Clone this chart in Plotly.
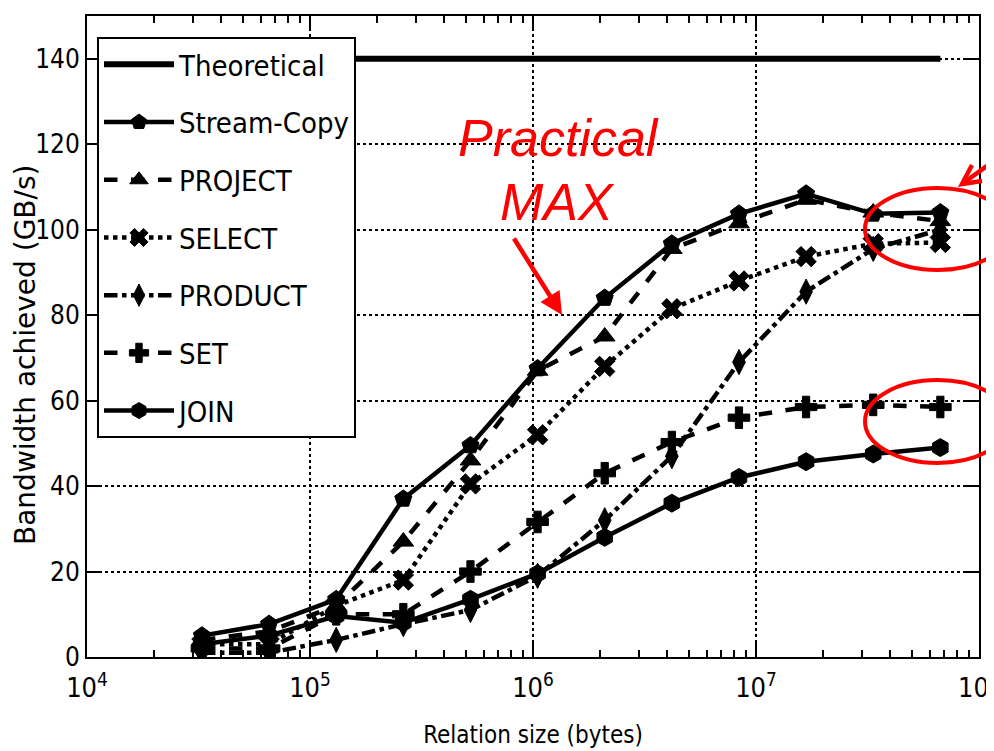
import plotly.graph_objects as go

sizes = [2**k for k in range(15, 27)]
theoretical = [140] * 12
stream_copy = [5, 7.7, 13.5, 37, 49.5, 67.5, 84, 96.7, 103.7, 108.4, 103.7, 104]
project = [4, 6, 12, 27, 46, 67, 75, 95.5, 101.5, 107, 104, 102]
select = [3, 3, 12, 18, 40.5, 52, 68, 81.5, 88, 93.7, 96.7, 97]
product = [1, 1, 4, 7.7, 11, 19, 32, 47, 69, 85.5, 95.5, 100]
set_op = [2, 2, 10, 10, 20, 31.6, 43, 50.3, 56, 58.5, 59, 58.5]
join = [3, 5, 9.6, 8, 13.5, 19.5, 28, 36, 42, 45.7, 47.5, 49]

x_tickvals = [1e4, 1e5, 1e6, 1e7, 1e8]
x_ticktext = ["10<sup>4</sup>", "10<sup>5</sup>", "10<sup>6</sup>", "10<sup>7</sup>", "10<sup>8</sup>"]
y_tickvals = [0, 20, 40, 60, 80, 100, 120, 140]
x_title = "Relation size (bytes)"
y_title = "Bandwidth achieved (GB/s)"

series = [
    ("Theoretical", theoretical, "solid", None),
    ("Stream-Copy", stream_copy, "solid", "pentagon"),
    ("PROJECT", project, "dash", "triangle-up"),
    ("SELECT", select, "dot", "x"),
    ("PRODUCT", product, "dashdot", "diamond-tall"),
    ("SET", set_op, "dash", "cross"),
    ("JOIN", join, "solid", "hexagon"),
]

FONT = "DejaVu Sans Condensed, DejaVu Sans"

fig = go.Figure()
for i, (name, vals, dash, sym) in enumerate(series):
    mode = "lines" if sym is None else "lines+markers"
    fig.add_trace(go.Scatter(
        x=sizes, y=vals, name=name, mode=mode, legendgroup=str(i),
        line=dict(color="black", width=6 if sym is None else 4.5, dash=dash),
        marker=dict(symbol=sym, size=18, color="black",
                    line=dict(color="black", width=1)) if sym else None,
    ))

# page is drawn with an 8px body offset
OFF = 8
W, H = 994, 751
L, R, T, B = 79, 23, 8, 102
pw, ph = W - L - R, H - T - B
PLOT_LEFT = OFF + L
PLOT_BOTTOM = OFF + H - B

def px(sx):
    return (sx - PLOT_LEFT) / pw

def py(sy):
    return (PLOT_BOTTOM - sy) / ph

minor_vals = []
for e in range(4, 8):
    for m in range(2, 10):
        minor_vals.append(m * 10**e)

fig.update_layout(
    width=W, height=H,
    margin=dict(l=L, r=R, t=T, b=B),
    plot_bgcolor="white", paper_bgcolor="white",
    font=dict(family=FONT, color="black"),
    showlegend=True,
    legend=dict(x=px(97), y=py(37), xanchor="left", yanchor="top",
                bgcolor="white", bordercolor="black", borderwidth=2,
                font=dict(size=29, family=FONT),
                tracegroupgap=17, itemwidth=70),
    xaxis=dict(type="log", range=[3.9999, 8.0001], tickvals=x_tickvals, ticktext=x_ticktext,
               automargin=False, ticklabeloverflow="allow", ticklabelstandoff=6,
               showgrid=True, gridcolor="black", griddash="dot", gridwidth=1.5,
               ticks="inside", ticklen=14, tickwidth=1.5, tickcolor="black",
               showline=True, linecolor="black", linewidth=2, mirror="ticks",
               tickfont=dict(size=27),
               minor=dict(tickvals=minor_vals, ticks="inside", ticklen=7,
                          tickcolor="black", tickwidth=1.5, showgrid=False),
               title=dict(text=x_title, font=dict(size=24), standoff=24),
               zeroline=False),
    yaxis=dict(range=[0, 150], tickvals=y_tickvals, automargin=False,
               ticklabeloverflow="allow",
               showgrid=True, gridcolor="black", griddash="dot", gridwidth=1.5,
               ticks="inside", ticklen=14, tickwidth=1.5, tickcolor="black",
               showline=True, linecolor="black", linewidth=2, mirror="ticks",
               tickfont=dict(size=26),
               zeroline=False),
)

fig.add_annotation(xref="paper", yref="paper", x=px(25), y=py(355),
                   xanchor="center", yanchor="middle", textangle=-90,
                   text=y_title, showarrow=False,
                   font=dict(family="DejaVu Sans", size=28, color="black"))

red = "#ff0000"
fig.add_shape(type="circle", xref="paper", yref="paper",
              x0=px(865), x1=px(1010), y0=py(270), y1=py(188),
              line=dict(color=red, width=4))
fig.add_shape(type="circle", xref="paper", yref="paper",
              x0=px(865), x1=px(1010), y0=py(463), y1=py(380),
              line=dict(color=red, width=4))

fig.add_annotation(xref="paper", yref="paper", x=px(558), y=py(138),
                   xanchor="center", yanchor="middle",
                   text="<i>Practical</i>", showarrow=False,
                   font=dict(family="Liberation Sans, Arial", size=52, color=red))
fig.add_annotation(xref="paper", yref="paper", x=px(557), y=py(202),
                   xanchor="center", yanchor="middle",
                   text="<i>MAX</i>", showarrow=False,
                   font=dict(family="Liberation Sans, Arial", size=52, color=red))
fig.add_annotation(xref="paper", yref="paper", x=px(562), y=py(315),
                   text="", showarrow=True, ax=-49, ay=-78,
                   arrowcolor=red, arrowwidth=4.5, arrowhead=2, arrowsize=1)

# top-right arrow drawn as shapes (shaft + open head)
tip = (962, 184)
tail = (1002, 155)
wing1 = (982, 181)
wing2 = (972, 165)
fig.add_shape(type="line", xref="paper", yref="paper",
              x0=px(tail[0]), y0=py(tail[1]), x1=px(tip[0]), y1=py(tip[1]),
              line=dict(color=red, width=4.5))
fig.add_shape(type="path", xref="paper", yref="paper",
              path=f"M {px(wing1[0])} {py(wing1[1])} L {px(tip[0])} {py(tip[1])} L {px(wing2[0])} {py(wing2[1])}",
              line=dict(color=red, width=4.5))

fig.write_html("out.html")
